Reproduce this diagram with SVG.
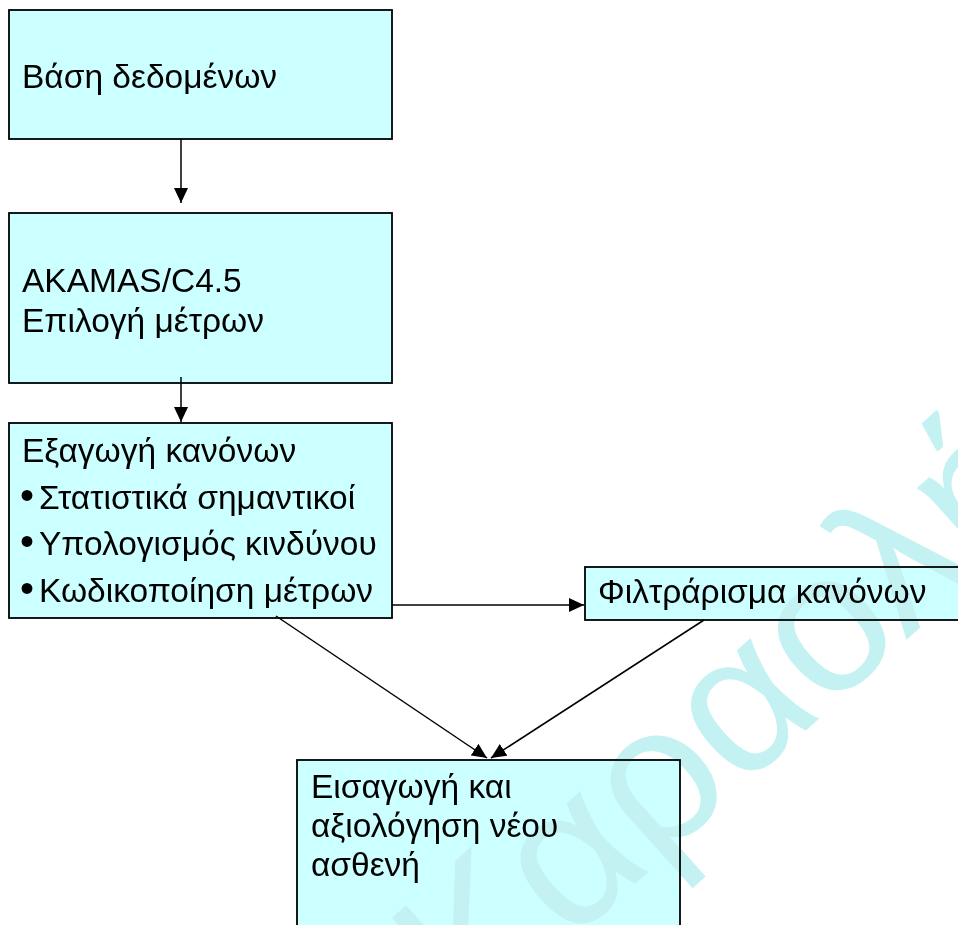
<svg xmlns="http://www.w3.org/2000/svg" width="958" height="925" viewBox="0 0 958 925">
<style>
.box{fill:#CCFFFF;stroke:#000;stroke-width:1.8}
.t{font-family:"Liberation Sans",Arial,sans-serif;font-size:33.5px;fill:#000}
.b{font-size:40px}
.c{stroke:#000;stroke-width:1.5;fill:none}
.wm{font-family:"Liberation Sans",Arial,sans-serif;font-size:200px;fill:#C4F2F2;mix-blend-mode:darken}
</style>
<defs>
<marker id="ah" markerUnits="userSpaceOnUse" markerWidth="15" markerHeight="14" refX="15" refY="7" orient="auto">
<path d="M0,0 L15,7 L0,14 z" fill="#000"/>
</marker>
</defs>
<rect width="958" height="925" fill="#fff"/>
<g id="n1">
<rect class="box" x="9" y="10" width="383" height="129"/>
<text class="t" x="22" y="88">Βάση δεδομένων</text>
</g>
<g id="n2">
<rect class="box" x="9" y="213" width="383" height="170"/>
<text class="t" x="22" y="292">AKAMAS/C4.5</text>
<text class="t" x="22" y="332">Επιλογή μέτρων</text>
</g>
<g id="n3">
<rect class="box" x="9" y="423" width="383" height="195"/>
<text class="t" x="22" y="462">Εξαγωγή κανόνων</text>
<text class="t" x="20" y="509"><tspan class="b">•</tspan><tspan x="39">Στατιστικά σημαντικοί</tspan></text>
<text class="t" x="20" y="555"><tspan class="b">•</tspan><tspan x="39">Υπολογισμός κινδύνου</tspan></text>
<text class="t" x="20" y="602"><tspan class="b">•</tspan><tspan x="39">Κωδικοποίηση μέτρων</tspan></text>
</g>
<g id="n4">
<rect class="box" x="585" y="567" width="380" height="53"/>
<text class="t" x="598" y="603">Φιλτράρισμα κανόνων</text>
</g>
<g id="n5">
<rect class="box" x="297" y="760" width="383" height="180"/>
<text class="t" x="311" y="798">Εισαγωγή και</text>
<text class="t" x="311" y="837">αξιολόγηση νέου</text>
<text class="t" x="311" y="876">ασθενή</text>
</g>
<g id="connectors">
<line class="c" x1="181" y1="139" x2="181" y2="203" marker-end="url(#ah)"/>
<line class="c" x1="181" y1="377" x2="181" y2="422" marker-end="url(#ah)"/>
<line class="c" x1="392" y1="605" x2="584" y2="605" marker-end="url(#ah)"/>
<line class="c" x1="276" y1="616" x2="487" y2="758" marker-end="url(#ah)"/>
<line class="c" x1="704" y1="620" x2="491" y2="758" marker-end="url(#ah)"/>
</g>
<g id="watermark">
<text class="wm" transform="translate(472,1031) rotate(-42)">Καραολή</text>
</g>
</svg>
